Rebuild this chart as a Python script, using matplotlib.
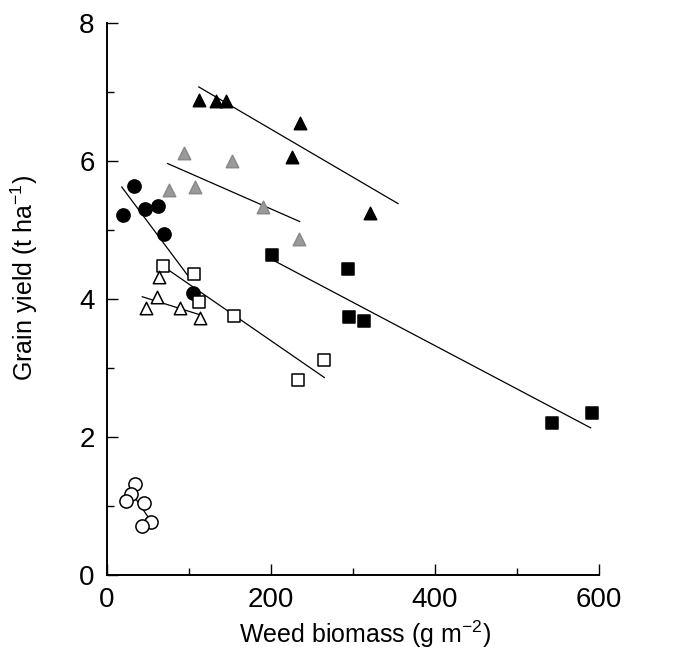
import matplotlib
matplotlib.use("Agg")
import matplotlib.pyplot as plt
from matplotlib.ticker import MultipleLocator

plt.rcParams['font.family'] = ['Liberation Sans', 'DejaVu Sans']
plt.rcParams['mathtext.fontset'] = 'custom'
plt.rcParams['mathtext.rm'] = 'Liberation Sans'

# black triangles
btri_x = [112, 133, 145, 235, 226, 321]
btri_y = [6.88, 6.87, 6.87, 6.55, 6.06, 5.25]
btri_fx = [112, 355]
btri_fy = [7.07, 5.38]

# grey triangles
gtri_x = [94, 152, 76, 107, 190, 234]
gtri_y = [6.12, 5.99, 5.57, 5.62, 5.33, 4.87]
gtri_fx = [74, 235]
gtri_fy = [5.96, 5.12]

# black circles
bcir_x = [20, 33, 46, 62, 70, 105]
bcir_y = [5.22, 5.64, 5.30, 5.35, 4.94, 4.09]
bcir_fx = [18, 99]
bcir_fy = [5.62, 4.33]

# open squares
osq_x = [68, 106, 112, 155, 233, 265]
osq_y = [4.48, 4.36, 3.96, 3.75, 2.83, 3.12]
osq_fx = [71, 265]
osq_fy = [4.45, 2.86]

# open triangles
otri_x = [63, 61, 48, 89, 113]
otri_y = [4.32, 4.03, 3.87, 3.87, 3.72]
otri_fx = [43, 113]
otri_fy = [4.03, 3.77]

# black squares
bsq_x = [201, 294, 295, 313, 543, 591]
bsq_y = [4.64, 4.43, 3.74, 3.68, 2.20, 2.35]
bsq_fx = [201, 590]
bsq_fy = [4.57, 2.13]

# open circles
ocir_x = [34, 29, 23, 45, 54, 43]
ocir_y = [1.32, 1.17, 1.07, 1.04, 0.77, 0.71]
ocir_fx = [30, 54]
ocir_fy = [1.19, 0.77]

fig = plt.figure(figsize=(6.86, 6.51), dpi=100)
ax = fig.add_axes([0.156, 0.117, 0.717, 0.848])

groups = [
    (btri_x, btri_y, btri_fx, btri_fy, '^', 'black', 'black'),
    (gtri_x, gtri_y, gtri_fx, gtri_fy, '^', '#9a9a9a', '#8a8a8a'),
    (bcir_x, bcir_y, bcir_fx, bcir_fy, 'o', 'black', 'black'),
    (osq_x, osq_y, osq_fx, osq_fy, 's', 'white', 'black'),
    (otri_x, otri_y, otri_fx, otri_fy, '^', 'white', 'black'),
    (bsq_x, bsq_y, bsq_fx, bsq_fy, 's', 'black', 'black'),
    (ocir_x, ocir_y, ocir_fx, ocir_fy, 'o', 'white', 'black'),
]
sizes = {'o': 90, 's': 75, '^': 80}
for x, y, fx, fy, m, fc, ec in groups:
    ax.plot(fx, fy, color='black', lw=0.9, zorder=2)
    ax.scatter(x, y, marker=m, s=sizes[m], facecolor=fc,
               edgecolor=ec, linewidth=1.1, zorder=3)

ax.set_xlim(0, 600)
ax.set_ylim(0, 8)
ax.xaxis.set_major_locator(MultipleLocator(200))
ax.xaxis.set_minor_locator(MultipleLocator(100))
ax.yaxis.set_major_locator(MultipleLocator(2))
ax.yaxis.set_minor_locator(MultipleLocator(1))
ax.spines['top'].set_visible(False)
ax.spines['right'].set_visible(False)
ax.spines['left'].set_linewidth(1.4)
ax.spines['bottom'].set_linewidth(1.4)
ax.tick_params(which='both', direction='in', width=1.0, labelsize=20)
ax.tick_params(which='major', length=8, pad=9)
ax.tick_params(which='minor', length=5)

ax.set_xlabel("Weed biomass (g m$^{-2}$)", fontsize=18)
ax.set_ylabel("Grain yield (t ha$^{-1}$)", fontsize=18)
ax.xaxis.set_label_coords(0.524, -0.08)
ax.yaxis.set_label_coords(-0.136, 0.538)

plt.savefig("out.png", dpi=100)
